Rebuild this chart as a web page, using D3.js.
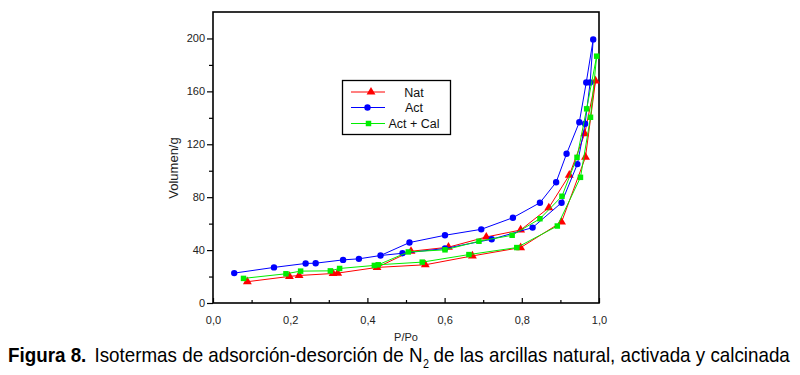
<!DOCTYPE html>
<html>
<head>
<meta charset="utf-8">
<script src="https://cdn.jsdelivr.net/npm/d3@7"></script>
<style>
  html, body { margin: 0; padding: 0; background: #fff; }
  svg { display: block; }
</style>
</head>
<body>
<svg id="chart" width="800" height="375"></svg>
<script>
// ---- Data (P/Po, Volumen/g) ----
const seriesNames = ["Nat", "Act", "Act + Cal"];

const natAdsP = [0.089, 0.198, 0.223, 0.311, 0.323, 0.425, 0.550, 0.672, 0.797, 0.903, 0.965, 0.991];
const natAdsV = [16.1, 20.1, 20.8, 22.3, 22.6, 26.9, 28.9, 35.6, 41.9, 61.2, 110.3, 167.9];
const natDesP = [0.991, 0.963, 0.923, 0.870, 0.797, 0.708, 0.610, 0.513, 0.425];
const natDesV = [167.9, 128.0, 96.6, 72.0, 55.2, 49.9, 42.2, 39.1, 26.9];

const actAdsP = [0.055, 0.158, 0.240, 0.266, 0.337, 0.378, 0.434, 0.491, 0.601, 0.722, 0.828, 0.903, 0.944, 0.964, 0.977, 0.985];
const actAdsV = [22.6, 26.9, 29.9, 30.1, 32.6, 33.4, 35.9, 37.6, 41.2, 48.2, 57.0, 75.8, 105.0, 135.5, 166.7, 199.3];
const actDesP = [0.985, 0.967, 0.949, 0.916, 0.889, 0.847, 0.777, 0.695, 0.601, 0.509, 0.434];
const actDesV = [199.3, 166.7, 136.7, 112.8, 91.3, 75.8, 64.5, 55.7, 51.2, 45.7, 35.9];

const calAdsP = [0.079, 0.189, 0.227, 0.304, 0.328, 0.418, 0.428, 0.542, 0.663, 0.787, 0.892, 0.952, 0.978, 0.994];
const calAdsV = [18.6, 22.1, 24.1, 24.3, 26.1, 28.4, 28.9, 30.9, 36.6, 41.9, 58.2, 95.0, 140.4, 186.6];
const calDesP = [0.994, 0.968, 0.943, 0.904, 0.847, 0.775, 0.689, 0.601, 0.506, 0.428];
const calDesV = [186.6, 146.8, 110.1, 80.7, 63.7, 51.2, 46.7, 40.2, 38.6, 28.9];

const xTickValues = [0, 0.2, 0.4, 0.6, 0.8, 1.0];
const xTickLabels = ["0,0", "0,2", "0,4", "0,6", "0,8", "1,0"];
const yTickValues = [0, 40, 80, 120, 160, 200];
const yTickLabels = ["0", "40", "80", "120", "160", "200"];

const xLabel = "P/Po";
const yLabel = "Volumen/g";
const captionParts = ["Figura 8.", "Isotermas de adsorción-desorción de N", "2", "de las arcillas natural, activada y calcinada"];

// ---- Build series ----
const zip = (p, v) => p.map((d, i) => [d, v[i]]);
const series = [
  { name: seriesNames[0], color: "#ff0000", symbol: d3.symbolTriangle, size: 34,
    branches: [zip(natAdsP, natAdsV), zip(natDesP, natDesV)] },
  { name: seriesNames[1], color: "#0000ff", symbol: d3.symbolCircle, size: 32,
    branches: [zip(actAdsP, actAdsV), zip(actDesP, actDesV)] },
  { name: seriesNames[2], color: "#00ee00", symbol: d3.symbolSquare, size: 30,
    branches: [zip(calAdsP, calAdsV), zip(calDesP, calDesV)] }
];

// ---- Layout ----
const svg = d3.select("#chart");
const mLeft = 213, mRight = 599, mTop = 12, mBottom = 303;
const x = d3.scaleLinear().domain([0, 1]).range([mLeft, mRight]);
const y = d3.scaleLinear().domain([0, 220]).range([mBottom, mTop]);
const font = "Arial, 'Liberation Sans', sans-serif";

// frame
svg.append("rect")
  .attr("x", mLeft).attr("y", mTop)
  .attr("width", mRight - mLeft).attr("height", mBottom - mTop)
  .attr("fill", "none").attr("stroke", "#000").attr("stroke-width", 1.6);

// x axis (ticks inward)
const xMinor = svg.append("g").attr("transform", `translate(0,${mBottom})`)
  .call(d3.axisBottom(x).tickValues(d3.range(0.1, 1.0, 0.2)).tickSize(-3).tickFormat(""));
xMinor.select(".domain").remove();
const xMajor = svg.append("g").attr("transform", `translate(0,${mBottom})`)
  .call(d3.axisBottom(x).tickValues(xTickValues).tickSize(-5).tickPadding(13)
    .tickFormat((d, i) => xTickLabels[i]));
xMajor.select(".domain").remove();
xMajor.selectAll("text").attr("font-family", font).attr("font-size", 11).attr("fill", "#222");

// y axis (ticks outward)
const yMinor = svg.append("g").attr("transform", `translate(${mLeft},0)`)
  .call(d3.axisLeft(y).tickValues(d3.range(20, 220, 40)).tickSize(4).tickFormat(""));
yMinor.select(".domain").remove();
const yMajor = svg.append("g").attr("transform", `translate(${mLeft},0)`)
  .call(d3.axisLeft(y).tickValues(yTickValues).tickSize(6).tickPadding(2)
    .tickFormat((d, i) => yTickLabels[i]));
yMajor.select(".domain").remove();
yMajor.selectAll("text").attr("font-family", font).attr("font-size", 11).attr("fill", "#222");
svg.selectAll(".tick line").attr("stroke", "#000").attr("stroke-width", 1.2);

// axis titles
svg.append("text").attr("x", 406).attr("y", 341).attr("text-anchor", "middle")
  .attr("font-family", font).attr("font-size", 11).attr("fill", "#222").text(xLabel);
svg.append("text").attr("transform", "translate(178,168) rotate(-90)")
  .attr("text-anchor", "middle").attr("font-family", font).attr("font-size", 13)
  .attr("fill", "#222").text(yLabel);

// lines + markers
const line = d3.line().x(d => x(d[0])).y(d => y(d[1]));
series.forEach(s => {
  const g = svg.append("g");
  s.branches.forEach(b => {
    g.append("path").attr("d", line(b)).attr("fill", "none")
      .attr("stroke", s.color).attr("stroke-width", 1);
  });
  const pts = s.branches[0].concat(s.branches[1].slice(1, -1));
  g.selectAll("path.m").data(pts).enter().append("path").attr("class", "m")
    .attr("d", d3.symbol().type(s.symbol).size(s.size))
    .attr("transform", d => `translate(${x(d[0])},${y(d[1])})`)
    .attr("fill", s.color);
});

// legend
const lg = svg.append("g");
lg.append("rect").attr("x", 342.5).attr("y", 80.5).attr("width", 108).attr("height", 54)
  .attr("fill", "#fff").attr("stroke", "#000").attr("stroke-width", 1.3);
const legY = [92, 107.5, 123.5];
const legMX = [371, 367.5, 368.5];
series.forEach((s, i) => {
  lg.append("line").attr("x1", 351).attr("x2", 385).attr("y1", legY[i]).attr("y2", legY[i])
    .attr("stroke", s.color).attr("stroke-width", 1);
  lg.append("path").attr("d", d3.symbol().type(s.symbol).size(s.size)())
    .attr("transform", `translate(${legMX[i]},${legY[i]})`).attr("fill", s.color);
  lg.append("text").attr("x", 414).attr("y", legY[i] + 4.5).attr("text-anchor", "middle")
    .attr("font-family", font).attr("font-size", 12.5).attr("fill", "#111").text(s.name);
});

// caption: separate text pieces laid out in a horizontally condensed group
const capG = svg.append("g");
const capFont = 21;
const pieces = [
  { t: captionParts[0], w: "bold", fs: capFont, dy: 0, gapAfter: 9 },
  { t: captionParts[1], w: "normal", fs: capFont, dy: 0, gapAfter: 0.5 },
  { t: captionParts[2], w: "normal", fs: 12, dy: 6, gapAfter: 5 },
  { t: captionParts[3], w: "normal", fs: capFont, dy: 0, gapAfter: 0 }
];
let cx = 0;
pieces.forEach(p => {
  const t = capG.append("text").attr("x", cx).attr("y", p.dy)
    .attr("font-family", font).attr("font-size", p.fs).attr("font-weight", p.w)
    .attr("fill", "#000").text(p.t);
  cx += t.node().getComputedTextLength() + p.gapAfter;
});
const totalW = cx;
const sx = 782 / totalW;
capG.attr("transform", `translate(8,362) scale(${sx},1)`);
</script>
</body>
</html>
